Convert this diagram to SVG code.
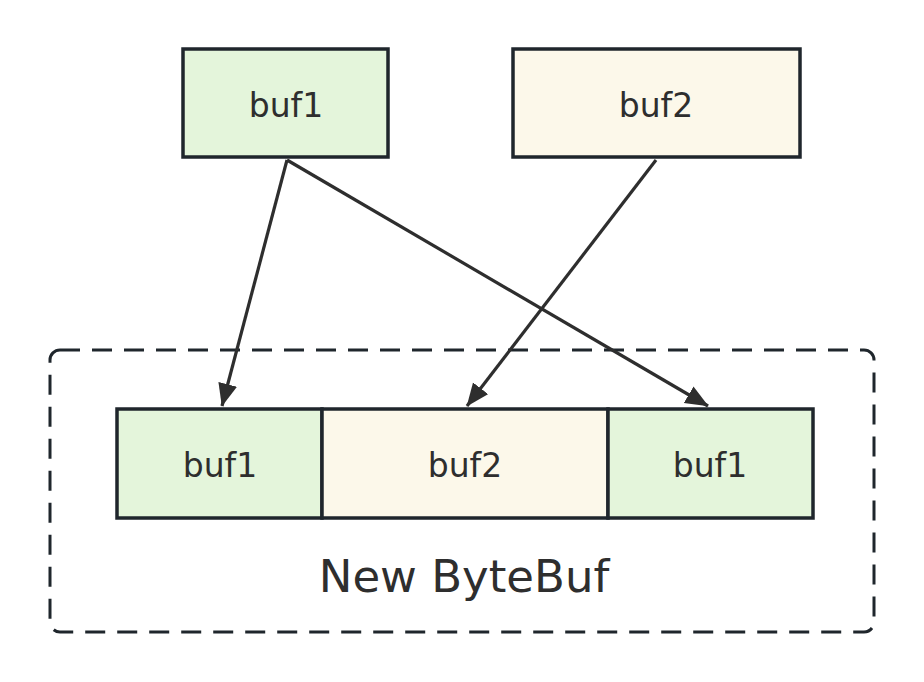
<svg xmlns="http://www.w3.org/2000/svg" width="924" height="682" viewBox="0 0 924 682">
<style>
.box{stroke:#1f262c;stroke-width:3.5}
.g{fill:#e4f5db}
.y{fill:#fcf8ea}
.t{font-family:"DejaVu Sans",sans-serif;font-size:33px;fill:#2e2e2e;text-anchor:middle}
.lbl{font-family:"DejaVu Sans",sans-serif;font-size:45px;fill:#2e2e2e;text-anchor:middle}
.c{stroke:#2e2e2e;stroke-width:3.2;fill:none;marker-end:url(#ah)}
</style>
<defs>
<marker id="ah" markerWidth="8" markerHeight="8" refX="7" refY="3" orient="auto" markerUnits="strokeWidth">
<path d="M0,0 L7.2,3 L0,6 Z" fill="#2e2e2e"/>
</marker>
</defs>
<rect width="924" height="682" fill="#ffffff"/>
<g id="container">
<rect x="50" y="350" width="824" height="282" rx="10" fill="none" stroke="#1f262c" stroke-width="3" stroke-dasharray="20 12"/>
<text class="lbl" x="464" y="592">New ByteBuf</text>
</g>
<g id="buf1-top">
<rect class="box g" x="183" y="49" width="205" height="108"/>
<text class="t" x="286" y="117">buf1</text>
</g>
<g id="buf2-top">
<rect class="box y" x="513" y="49" width="287" height="108"/>
<text class="t" x="656" y="117">buf2</text>
</g>
<g id="cell-buf1-a">
<rect class="box g" x="117" y="409" width="205" height="109"/>
<text class="t" x="220" y="477">buf1</text>
</g>
<g id="cell-buf2">
<rect class="box y" x="322" y="409" width="286" height="109"/>
<text class="t" x="465" y="477">buf2</text>
</g>
<g id="cell-buf1-b">
<rect class="box g" x="608" y="409" width="205" height="109"/>
<text class="t" x="710" y="477">buf1</text>
</g>
<g id="connectors">
<line class="c" x1="287" y1="160" x2="222" y2="406"/>
<line class="c" x1="287" y1="160" x2="708" y2="406"/>
<line class="c" x1="656" y1="160" x2="467" y2="406"/>
</g>
</svg>
